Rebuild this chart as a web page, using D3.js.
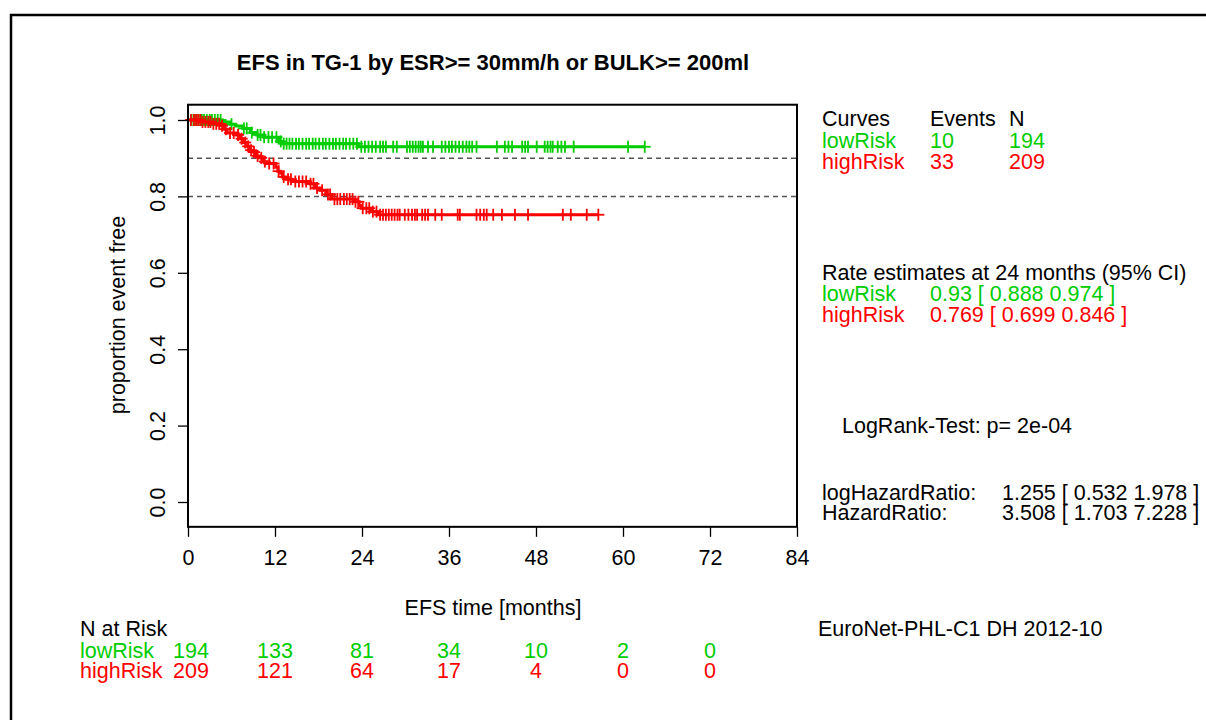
<!DOCTYPE html>
<html><head><meta charset="utf-8">
<script src="https://cdn.jsdelivr.net/npm/d3@7"></script>
<style>
body{margin:0;background:#fff;}
svg{display:block;font-family:"Liberation Sans",Arial,sans-serif;}
</style></head>
<body><svg id="c" width="1206" height="720"></svg>
<script>
// ---- data ----
const groups = ["lowRisk", "highRisk"];
const groupColors = ["#00cd00", "#ff0000"];
const events = [10, 33];
const nTotal = [194, 209];

// Kaplan-Meier step points (time in months, survival)
const lowStepTimes = [0, 4.8, 5.8, 6.5, 7.6, 8.6, 9.5, 10.5, 12.5, 13.0, 23.5];
const lowStepSurv  = [1.0, 0.995, 0.989, 0.984, 0.978, 0.967, 0.961, 0.955, 0.944, 0.938, 0.930];
const lowLastTime = 63.0;
const highStepTimes = [0, 1.8, 3.5, 4.6, 5.0, 5.4, 6.6, 7.2, 7.6, 8.0, 8.4, 8.9, 9.3, 9.8, 10.4, 10.9, 12.1, 12.4, 12.7, 13.0, 13.5, 14.3, 16.8, 17.5, 18.2, 19.0, 19.8, 22.8, 23.6, 23.9, 25.2, 26.3];
const highStepSurv  = [1.0, 0.995, 0.990, 0.985, 0.976, 0.966, 0.961, 0.951, 0.941, 0.931, 0.921, 0.916, 0.906, 0.901, 0.891, 0.886, 0.876, 0.866, 0.861, 0.851, 0.845, 0.839, 0.833, 0.822, 0.816, 0.805, 0.793, 0.786, 0.776, 0.769, 0.760, 0.752];
const highLastTime = 56.6;

// censoring times
const lowCensor = [0.5,0.9,1.2,1.5,1.9,2.2,2.6,3.0,3.3,3.7,4.1,4.5,6.0,7.7,8.1,8.8,9.6,10.0,10.5,11.1,11.6,12.2,12.8,13.2,13.6,14.0,14.4,14.9,15.3,15.8,16.3,16.7,17.2,17.6,18.1,18.6,19.0,19.5,20.0,20.4,20.9,21.4,21.8,22.3,22.8,23.3,23.9,24.4,24.9,25.4,25.9,26.5,26.9,27.3,28.3,28.8,30.2,30.6,31.0,31.4,31.8,32.1,32.4,33.1,33.8,35.0,35.5,36.0,36.4,36.9,37.4,37.9,38.4,38.8,39.2,39.8,42.6,43.7,44.2,44.7,46.1,46.5,46.9,48.1,49.2,49.6,50.0,50.3,51.0,51.5,52.0,53.2,60.7,63.0];
const highCensor = [0.4,0.8,1.1,1.4,1.7,2.0,2.4,2.8,3.1,3.5,3.9,4.3,4.7,5.2,5.8,6.3,6.9,7.4,7.9,8.3,8.7,9.1,9.6,10.1,10.6,11.2,11.8,12.5,13.2,13.8,14.2,14.8,15.3,15.8,16.3,16.9,17.3,17.8,18.5,19.3,19.6,20.2,20.6,21.0,21.5,21.9,22.3,22.7,23.1,23.5,24.1,24.6,25.0,25.5,26.0,26.5,26.9,27.3,27.7,28.1,28.5,28.9,29.2,29.9,30.4,30.9,31.3,31.6,32.3,32.7,33.1,34.1,35.0,37.2,37.5,39.8,40.3,40.8,41.2,42.1,43.3,45.1,46.9,51.7,52.8,55.0,56.6];

const xTicks = [0, 12, 24, 36, 48, 60, 72, 84];
const yTicks = [0, 0.2, 0.4, 0.6, 0.8, 1.0];
const refLines = [0.9, 0.8];
const atRiskLow = [194, 133, 81, 34, 10, 2, 0];
const atRiskHigh = [209, 121, 64, 17, 4, 0, 0];
const rateEst = ["0.93 [ 0.888 0.974 ]", "0.769 [ 0.699 0.846 ]"];
const hazardLabels = ["logHazardRatio:", "HazardRatio:"];
const hazardValues = ["1.255 [ 0.532 1.978 ]", "3.508 [ 1.703 7.228 ]"];

// ---- layout ----
const svg = d3.select("#c");
const FS = 21.5;
const x = d3.scaleLinear().domain([0, 84]).range([188, 797]);
const y = d3.scaleLinear().domain([0, 1]).range([502, 120]);
const boxTop = y(1.04), boxBot = y(-0.065);

svg.append("rect").attr("width",1206).attr("height",720).attr("fill","#fff");
// outer frame
svg.append("rect").attr("x",11).attr("y",15).attr("width",1300).attr("height",800)
  .attr("fill","none").attr("stroke","#000").attr("stroke-width",2.5);

function txt(xp, yp, s, opt={}) {
  const t = svg.append("text").attr("x", xp).attr("y", yp).attr("dy","0.35em")
    .attr("font-size", opt.size || FS).attr("fill", opt.color || "#000")
    .attr("text-anchor", opt.anchor || "start").text(s);
  if (opt.bold) t.attr("font-weight","bold");
  return t;
}

// title
txt(493, 62, "EFS in TG-1 by ESR>= 30mm/h or BULK>= 200ml", {anchor:"middle", bold:true, size:22});

// reference dashed lines
svg.selectAll(".ref").data(refLines).enter().append("line")
  .attr("x1", x(0)).attr("x2", x(84)).attr("y1", d=>y(d)).attr("y2", d=>y(d))
  .attr("stroke","#555").attr("stroke-width",1.5).attr("stroke-dasharray","5,4");

// curves
const line = d3.line().x(d=>x(d[0])).y(d=>y(d[1])).curve(d3.curveStepAfter);
function survAt(times, surv, t) {
  let s = surv[0];
  for (let i = 0; i < times.length; i++) if (times[i] <= t) s = surv[i];
  return s;
}
const curveData = [
  {times: lowStepTimes, surv: lowStepSurv, last: lowLastTime, cens: lowCensor, color: groupColors[0]},
  {times: highStepTimes, surv: highStepSurv, last: highLastTime, cens: highCensor, color: groupColors[1]}
];
curveData.forEach(c => {
  const pts = c.times.map((t,i)=>[t, c.surv[i]]);
  pts.push([c.last, c.surv[c.surv.length-1]]);
  svg.append("path").attr("d", line(pts)).attr("fill","none")
    .attr("stroke", c.color).attr("stroke-width", 3);
  const g = svg.append("g").attr("stroke", c.color).attr("stroke-width", 1.8);
  c.cens.forEach(t => {
    const cx = x(t), cy = y(survAt(c.times, c.surv, t));
    g.append("line").attr("x1", cx).attr("x2", cx).attr("y1", cy-6).attr("y2", cy+6);
    g.append("line").attr("x1", cx-6).attr("x2", cx+6).attr("y1", cy).attr("y2", cy);
  });
});

// plot box
svg.append("rect").attr("x", x(0)).attr("y", boxTop).attr("width", x(84)-x(0)).attr("height", boxBot-boxTop)
  .attr("fill","none").attr("stroke","#000").attr("stroke-width",2);

// axes
const xAxis = svg.append("g").attr("transform", `translate(0,${boxBot})`)
  .call(d3.axisBottom(x).tickValues(xTicks).tickSize(10).tickPadding(13).tickFormat(d3.format("d")));
xAxis.select(".domain").remove();
xAxis.selectAll("line").attr("stroke","#000").attr("stroke-width",1.3);
xAxis.selectAll("text").attr("font-size", FS).attr("font-family","Liberation Sans, Arial, sans-serif").attr("fill","#000");

const yAxis = svg.append("g").attr("transform", `translate(${x(0)},0)`)
  .call(d3.axisLeft(y).tickValues(yTicks).tickSize(10).tickFormat(d3.format(".1f")));
yAxis.select(".domain").remove();
yAxis.selectAll("line").attr("stroke","#000").attr("stroke-width",1.3);
yAxis.selectAll("text").attr("font-size", FS).attr("font-family","Liberation Sans, Arial, sans-serif").attr("fill","#000")
  .attr("x", null).attr("dy", null).attr("text-anchor","middle")
  .attr("transform", "translate(-30,0) rotate(-90)").attr("dominant-baseline","central");

// axis titles
txt(493, 607, "EFS time [months]", {anchor:"middle"});
svg.append("text").attr("transform","translate(117,315) rotate(-90)").attr("dy","0.35em")
  .attr("text-anchor","middle").attr("font-size",FS).text("proportion event free");

// legend
txt(822, 118, "Curves"); txt(930, 118, "Events"); txt(1009, 118, "N");
groups.forEach((g,i)=>{
  const yy = 140 + i*21;
  txt(822, yy, g, {color: groupColors[i]});
  txt(930, yy, String(events[i]), {color: groupColors[i]});
  txt(1009, yy, String(nTotal[i]), {color: groupColors[i]});
});

// rate estimates
txt(822, 272, "Rate estimates at 24 months (95% CI)");
groups.forEach((g,i)=>{
  const yy = 293 + i*21;
  txt(822, yy, g, {color: groupColors[i]});
  txt(930, yy, rateEst[i], {color: groupColors[i]});
});

txt(842, 425, "LogRank-Test: p= 2e-04");
hazardLabels.forEach((h,i)=>{
  const yy = 492 + i*20;
  txt(822, yy, h);
  txt(1002, yy, hazardValues[i]);
});
txt(818, 628, "EuroNet-PHL-C1 DH 2012-10");

// numbers at risk
txt(80, 628, "N at Risk");
[atRiskLow, atRiskHigh].forEach((arr,i)=>{
  const yy = 650 + i*20.5;
  txt(80, yy, groups[i], {color: groupColors[i]});
  arr.forEach((v,j)=>{
    txt(x(xTicks[j]) + (j===0 ? 3 : 0), yy, String(v), {anchor:"middle", color: groupColors[i]});
  });
});
</script></body></html>
